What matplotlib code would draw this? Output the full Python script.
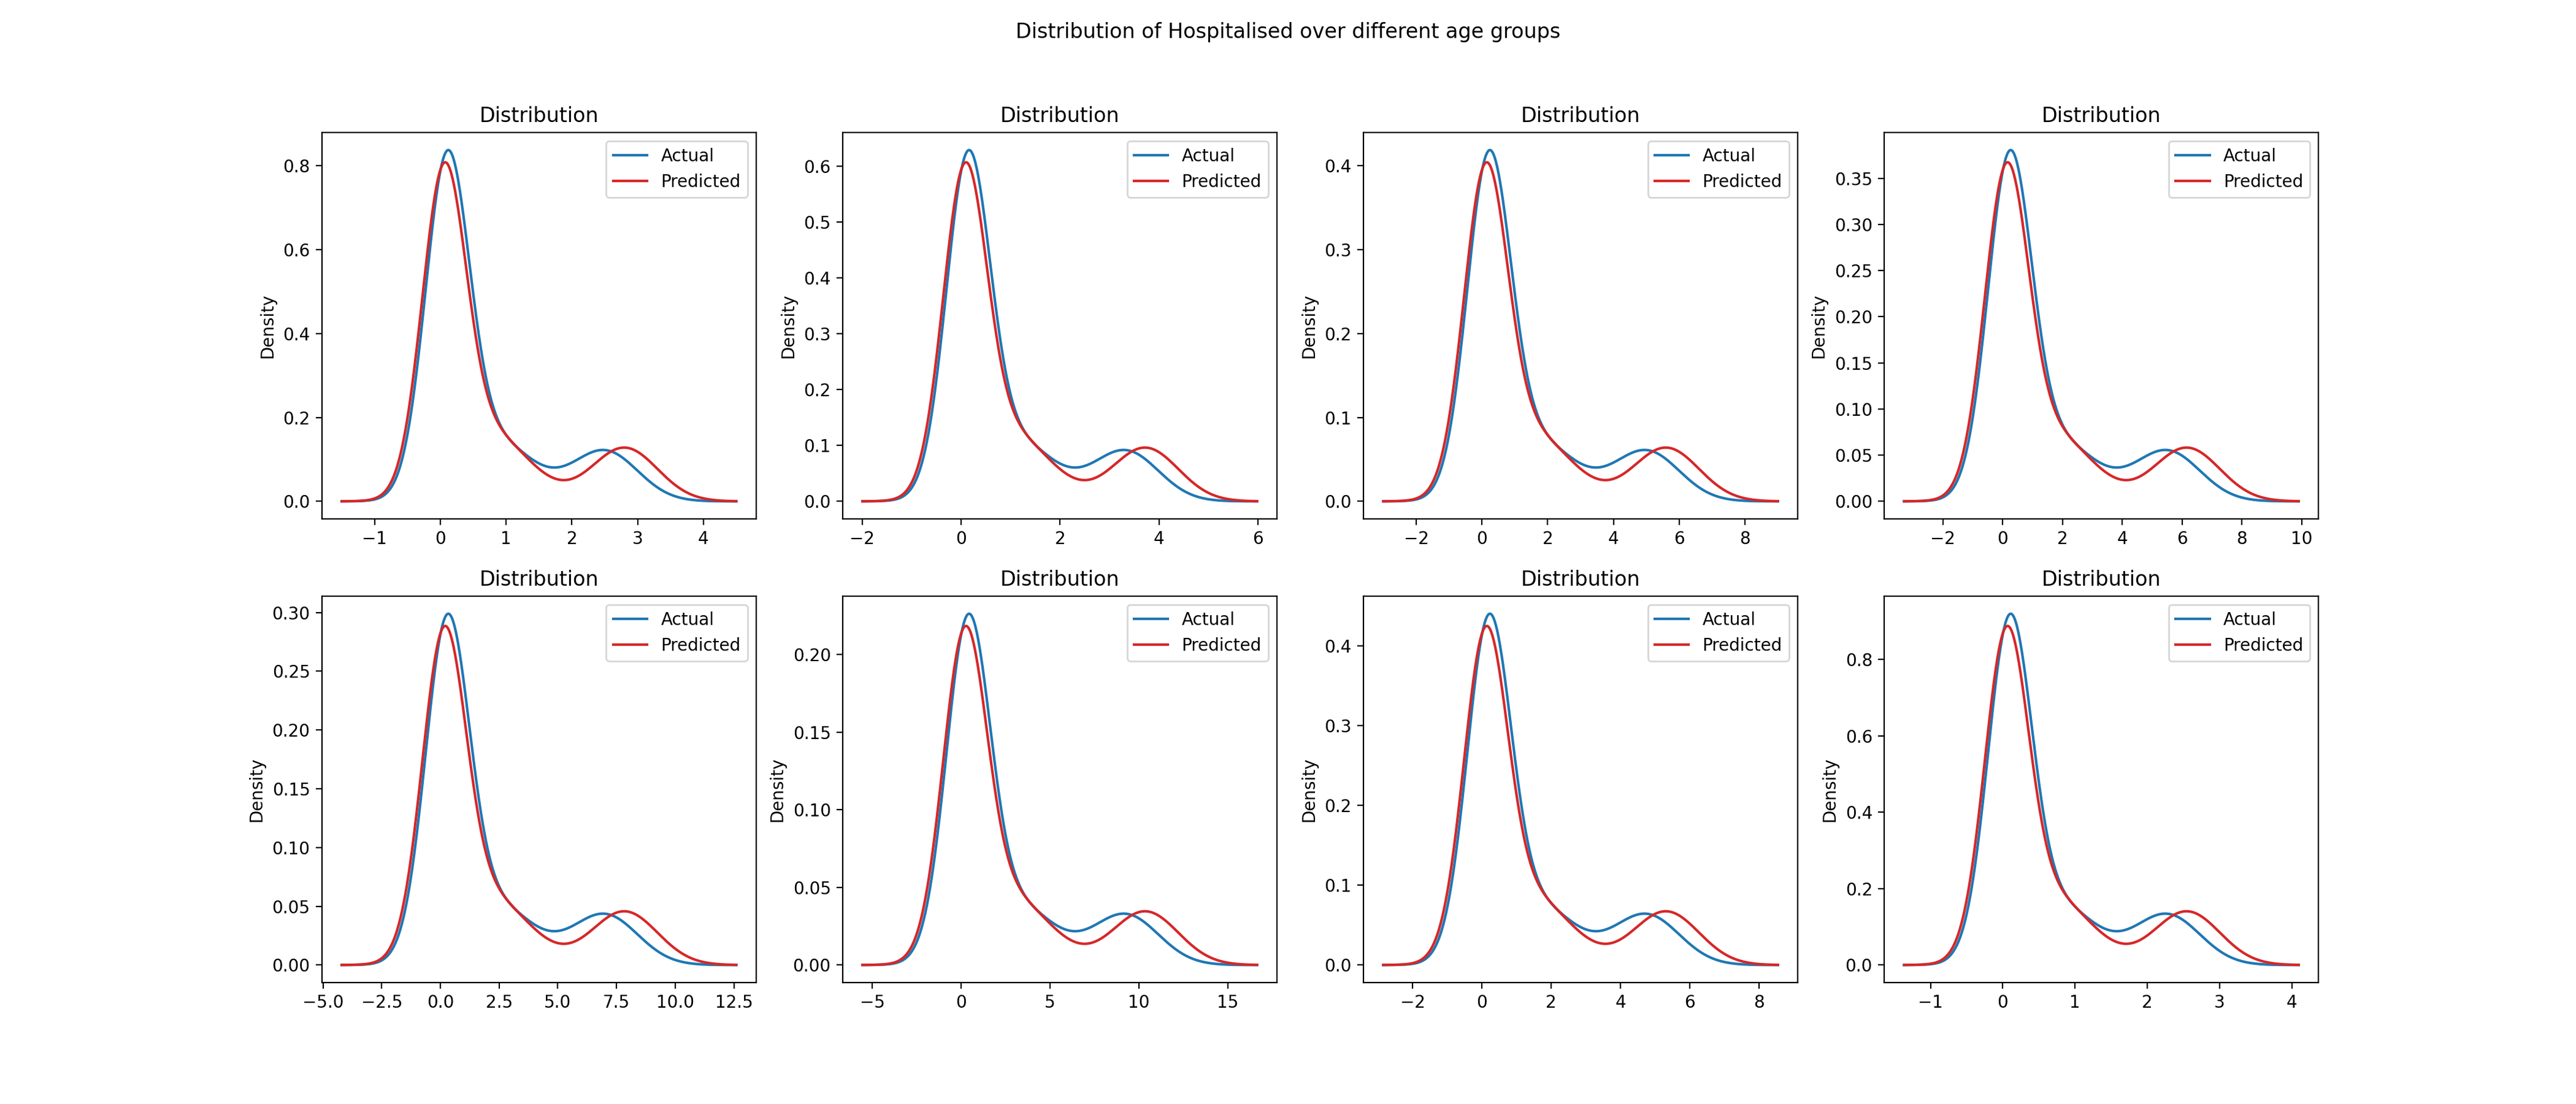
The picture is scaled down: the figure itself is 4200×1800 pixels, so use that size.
import numpy as np
import matplotlib.pyplot as plt

# Each curve is a smooth density built from three gaussian bumps (in panel-1 units)
# centre, spread, weight: main peak, right shoulder, second bump
actual_centres = [0.10, 0.80, 2.50]
actual_spreads = [0.33, 0.60, 0.50]
actual_weights = [0.63, 0.22, 0.15]

predicted_centres = [0.05, 0.75, 2.80]
predicted_spreads = [0.33, 0.60, 0.50]
predicted_weights = [0.60, 0.24, 0.16]

# per age-group horizontal scale
group_scales = [1.0, 1.33, 2.0, 2.2, 2.8, 3.7, 1.9, 0.91]
grid_span = (-1.5, 4.5)


def density(x, centres, spreads, weights, s):
    y = np.zeros_like(x)
    for c, sd, w in zip(centres, spreads, weights):
        y += w * np.exp(-0.5 * ((x - c * s) / (sd * s)) ** 2) / (sd * s * np.sqrt(2 * np.pi))
    return y


fig, axes = plt.subplots(2, 4, figsize=(21, 9))
fig.suptitle('Distribution of Hospitalised over different age groups')

for ax, s in zip(axes.flat, group_scales):
    x = np.linspace(grid_span[0] * s, grid_span[1] * s, 1000)
    ax.plot(x, density(x, actual_centres, actual_spreads, actual_weights, s),
            color='#1f77b4', label='Actual')
    ax.plot(x, density(x, predicted_centres, predicted_spreads, predicted_weights, s),
            color='#d62728', label='Predicted')
    ax.set_title('Distribution')
    ax.set_ylabel('Density')
    ax.legend(loc='upper right')

fig.savefig('out.png', dpi=200)
